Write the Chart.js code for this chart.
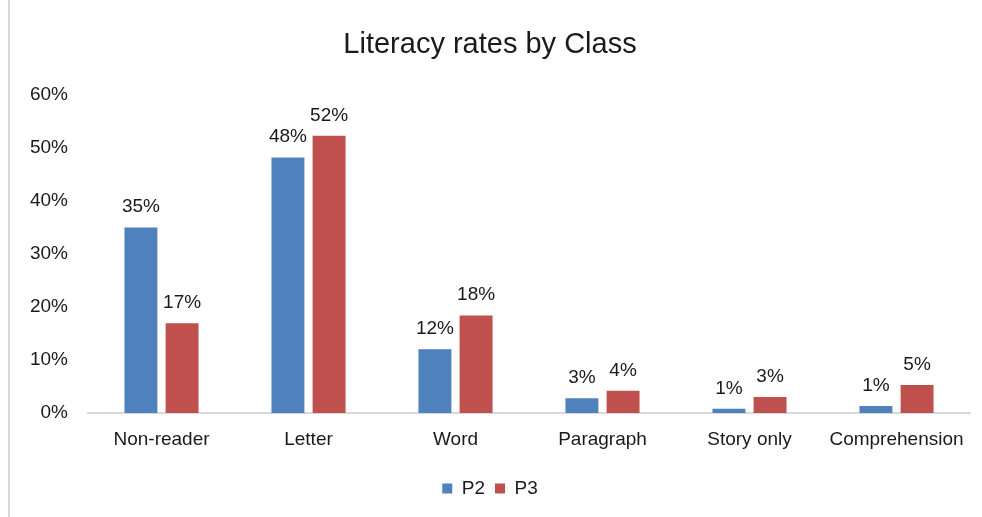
<!DOCTYPE html>
<html>
<head>
<meta charset="utf-8">
<script src="https://cdn.jsdelivr.net/npm/chart.js@4/dist/chart.umd.min.js"></script>
<style>
  body { margin: 0; background: #fff; }
  #wrap { position: relative; width: 982px; height: 517px; }
  #frame { position: absolute; left: 8px; top: 0; width: 2px; height: 517px; background: #d9d9d9; }
  canvas { position: absolute; left: 0; top: 0; }
</style>
</head>
<body>
<div id="wrap">
  <canvas id="chart" width="982" height="517"></canvas>
  <div id="frame"></div>
</div>
<script>
// categories and series (percent)
const levels = ["Non-reader", "Letter", "Word", "Paragraph", "Story only", "Comprehension"];
const p2Values = [35.0, 48.2, 12.0, 2.8, 0.8, 1.3];
const p3Values = [16.9, 52.3, 18.4, 4.2, 3.0, 5.3];
const yTicks = [0, 10, 20, 30, 40, 50, 60];

const FONT = "'Liberation Sans', Arial, sans-serif";
const TEXT = "#1a1a1a";

// draws the % label above each bar
const barLabels = {
  id: "barLabels",
  afterDatasetsDraw(chart) {
    const ctx = chart.ctx;
    ctx.save();
    ctx.font = "19px " + FONT;
    ctx.fillStyle = TEXT;
    ctx.textAlign = "center";
    ctx.textBaseline = "alphabetic";
    chart.data.datasets.forEach((ds, i) => {
      chart.getDatasetMeta(i).data.forEach((bar, j) => {
        ctx.fillText(Math.round(ds.data[j]) + "%", bar.x, bar.y - 15);
      });
    });
    ctx.restore();
  }
};

const chart = new Chart(document.getElementById("chart"), {
  type: "bar",
  data: {
    labels: levels,
    datasets: [
      { label: "P2", data: p2Values, backgroundColor: "#4F81BD",
        barPercentage: 0.8, categoryPercentage: 0.56 },
      { label: "P3", data: p3Values, backgroundColor: "#C0504D",
        barPercentage: 0.8, categoryPercentage: 0.56 }
    ]
  },
  options: {
    responsive: false,
    animation: false,
    layout: { padding: { left: 10, right: 12, top: 0, bottom: 9 } },
    plugins: {
      title: {
        display: true,
        text: "Literacy rates by Class",
        color: TEXT,
        font: { family: FONT, size: 29, weight: "normal" },
        padding: { top: 28, bottom: 32 }
      },
      legend: {
        position: "bottom",
        labels: {
          color: TEXT,
          font: { family: FONT, size: 19 },
          boxWidth: 10,
          boxHeight: 10,
          padding: 10
        }
      },
      tooltip: { enabled: false }
    },
    scales: {
      x: {
        afterFit(scale) { scale.height = 56; },
        grid: { display: false },
        border: { display: true, color: "#d9d9d9", width: 2 },
        ticks: { color: TEXT, font: { family: FONT, size: 19 }, padding: 7 }
      },
      y: {
        min: 0,
        max: 60,
        afterFit(scale) { scale.width = 78; },
        afterBuildTicks(scale) { scale.ticks = yTicks.map(v => ({ value: v })); },
        grid: { display: false },
        border: { display: false },
        ticks: {
          color: TEXT,
          font: { family: FONT, size: 19 },
          padding: 12,
          callback: v => v + "%"
        }
      }
    }
  },
  plugins: [barLabels]
});
</script>
</body>
</html>
